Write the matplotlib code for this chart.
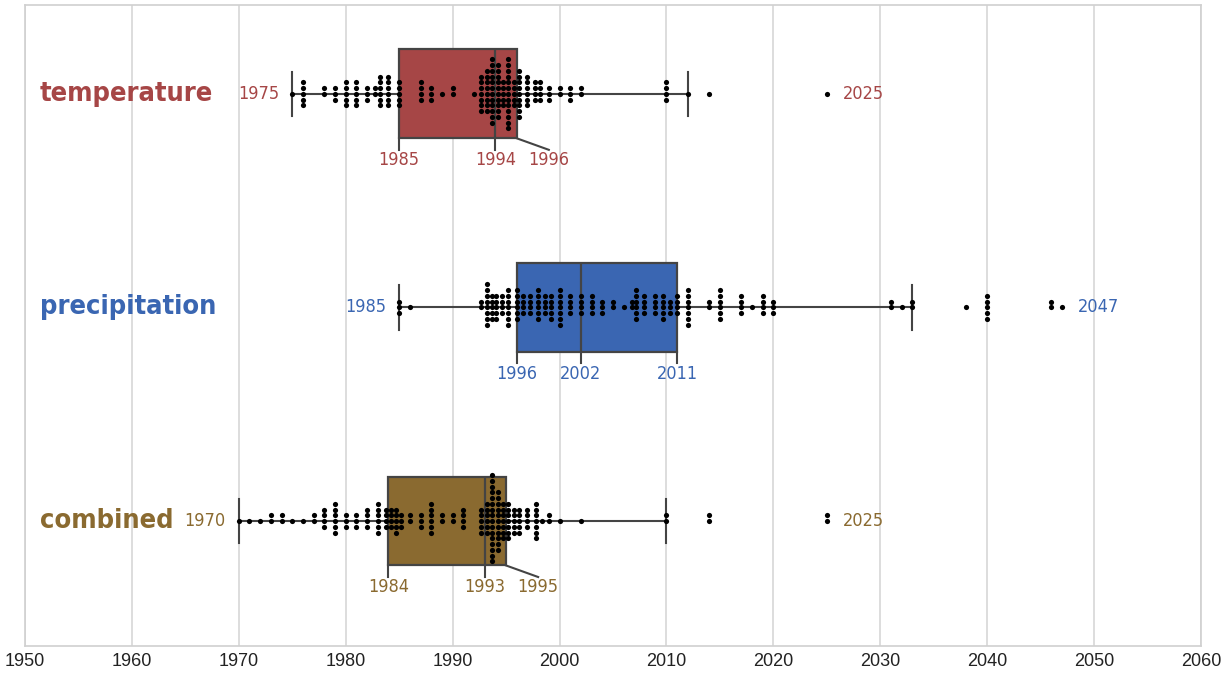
import matplotlib
matplotlib.use("Agg")
import matplotlib.pyplot as plt

# categories, colours and box stats
cats = ["temperature", "precipitation", "combined"]
colors = ["#a64646", "#3a66b2", "#8a6a30"]
whislo = [1975, 1985, 1970]
q1 = [1985, 1996, 1984]
med = [1994, 2002, 1993]
q3 = [1996, 2011, 1995]
whishi = [2012, 2033, 2010]
lo_label = [1975, 1985, 1970]
hi_label = [2025, 2047, 2025]

# swarm values (year) and how many dots sit on each
temp_years = [1975, 1976, 1978, 1979, 1980, 1981, 1982, 1982.7, 1983.2, 1984, 1985, 1987, 1988,
              1989, 1990, 1992, 1992.7, 1993.2, 1993.7, 1994.2, 1994.7, 1995.2, 1995.7, 1996.2,
              1997, 1997.7, 1998.2, 1999, 2000, 2001, 2002, 2010, 2012, 2014, 2025]
temp_counts = [1, 5, 2, 3, 5, 5, 3, 2, 6, 6, 5, 4, 3,
               1, 2, 1, 7, 8, 12, 10, 5, 13, 5, 9,
               6, 4, 4, 3, 2, 3, 2, 4, 1, 1, 1]

prec_years = [1985, 1986, 1992.7, 1993.2, 1993.65, 1994.1, 1994.6, 1995.2, 1996, 1996.6, 1997.2,
              1998, 1998.6, 1999.2, 2000, 2001, 2002, 2003, 2004, 2005, 2006, 2006.75, 2007.2,
              2007.9, 2008.9, 2009.7, 2010.3, 2011, 2012, 2014, 2015, 2017, 2018, 2019, 2020,
              2031, 2032, 2033, 2038, 2040, 2046, 2047]
prec_counts = [3, 1, 2, 8, 5, 5, 4, 7, 6, 4, 4,
               6, 4, 5, 7, 4, 4, 4, 3, 2, 1, 2, 6,
               4, 4, 5, 3, 4, 7, 2, 6, 4, 1, 4, 3,
               2, 1, 2, 1, 5, 2, 1]

comb_years = [1970, 1971, 1972, 1973, 1974, 1975, 1976, 1977, 1978, 1979, 1980, 1981, 1982, 1983,
              1983.8, 1984.2, 1984.7, 1985.2, 1986, 1987, 1988, 1989, 1990, 1991, 1992.7, 1993.2,
              1993.7, 1994.2, 1994.7, 1995.2, 1995.7, 1996.2, 1997, 1997.8, 1998.4, 1999, 2000,
              2002, 2010, 2014, 2025]
comb_counts = [1, 1, 1, 2, 2, 1, 1, 2, 4, 6, 3, 3, 4, 6,
               4, 4, 5, 3, 2, 3, 6, 2, 2, 4, 5, 6,
               16, 11, 7, 7, 5, 5, 4, 7, 1, 2, 1,
               1, 2, 2, 2]

swarms = [(temp_years, temp_counts), (prec_years, prec_counts), (comb_years, comb_counts)]

xticks = list(range(1950, 2061, 10))

fig = plt.figure(figsize=(12.31, 6.79), dpi=100)
ax = fig.add_axes([0.0203, 0.0486, 0.9553, 0.944])

box_w = 0.416
stats = []
for i in range(3):
    stats.append(dict(whislo=whislo[i], q1=q1[i], med=med[i], q3=q3[i], whishi=whishi[i], fliers=[]))

edge = "#444444"
bp = ax.bxp(stats, positions=[0, 1, 2], widths=box_w, orientation="horizontal",
            patch_artist=True, showfliers=False,
            boxprops=dict(edgecolor=edge, linewidth=1.6),
            medianprops=dict(color=edge, linewidth=1.6),
            whiskerprops=dict(color=edge, linewidth=1.5),
            capprops=dict(color=edge, linewidth=1.5))
for patch, c in zip(bp["boxes"], colors):
    patch.set_facecolor(c)
for art in bp["whiskers"] + bp["caps"]:
    art.set_zorder(1)

# swarm dots, stacked 0, up, down, up, down ...
step = 0.0269
for i, (yrs, cnts) in enumerate(swarms):
    xs, ys = [], []
    for yr, n in zip(yrs, cnts):
        for k in range(n):
            off = ((k + 1) // 2) * step
            if k % 2 == 1:
                off = -off
            xs.append(yr)
            ys.append(i + off)
    ax.scatter(xs, ys, s=14, color="black", linewidths=0, zorder=5)

numfont = dict(family="DejaVu Sans", stretch="condensed", size=13)
half = box_w / 2
for i in range(3):
    c = colors[i]
    ax.text(1951.4, i, cats[i], color=c, fontsize=19.5, fontweight="bold",
            family="DejaVu Sans", stretch="condensed", ha="left", va="center")
    ax.text(lo_label[i] - 1.2, i, str(lo_label[i]), color=c, ha="right", va="center", **numfont)
    ax.text(hi_label[i] + 1.5, i, str(hi_label[i]), color=c, ha="left", va="center", **numfont)
    # quartile labels below the box
    vals = [q1[i], med[i], q3[i]]
    lab_x = []
    for v in vals:
        lx = v
        if lab_x and lx - lab_x[-1] < 5.0:
            lx = lab_x[-1] + 5.0
        lab_x.append(lx)
    for v, lx in zip(vals, lab_x):
        ax.plot([v, lx], [i + half, i + 0.262], color=edge, linewidth=1.5, zorder=2)
        ax.text(lx, i + 0.31, str(v), color=c, ha="center", va="center", **numfont)

ax.set_xlim(1950, 2060)
ax.set_ylim(2.585, -0.416)
ax.set_xticks(xticks)
ax.set_xticklabels([str(t) for t in xticks], fontsize=13, family="Liberation Sans", color="#222222")
ax.set_yticks([])
ax.tick_params(axis="x", length=0, pad=5)
ax.grid(axis="x", color="#dadada", linewidth=1.3)
ax.set_axisbelow(True)
for sp in ax.spines.values():
    sp.set_color("#d0d0d0")
    sp.set_linewidth(1.2)

fig.savefig("out.png", dpi=100)
